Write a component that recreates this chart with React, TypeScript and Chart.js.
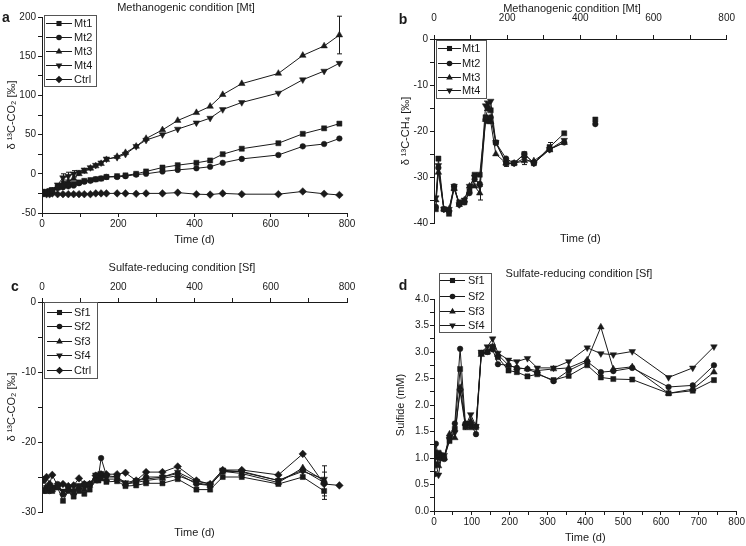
import React, { useEffect, useRef } from 'react';
import { Chart, registerables } from 'chart.js';

Chart.register(...registerables);

const FONT = "'Liberation Sans', Arial, Helvetica, sans-serif";
const INK = '#1a1a1a';
Chart.defaults.font.family = FONT;

// ---------------- Panel a : δ13C-CO2, methanogenic ----------------
const timeA = [0, 5, 12, 20, 27, 41, 55, 69, 83, 97, 111, 127, 141, 155, 169, 197, 219, 247, 273, 316, 356, 405, 441, 474, 524, 620, 684, 740, 780];
const mt1A = [-24, -24, -23, -22, -21, -17, -15, -14, -13, -11, -9, -8, -7, -6, -4, -3, -2, 0, 3, 8, 11, 14, 17, 25, 32, 39, 51, 58, 64];
const mt2A = [-25, -25, -24, -23, -22, -18, -17, -16, -15, -12, -10, -9, -7, -6, -4, -4, -3, -1, 0, 3, 5, 7, 9, 14, 19, 24, 35, 38, 45];
const mt3A = [-24, -24, -24, -23, -22, -18, -12, -10, -6, 0, 3, 7, 10, 13, 18, 22, 27, 35, 45, 56, 68, 78, 86, 101, 115, 128, 151, 163, 177];
const mt4A = [-24, -24, -23, -22, -20, -14, -5, -3, 0, 2, 5, 8, 11, 14, 19, 21, 25, 35, 43, 50, 57, 65, 71, 82, 91, 103, 120, 131, 141];
const ctrlA = [-25, -25, -26, -26, -25, -26, -26, -26, -26, -26, -26, -26, -25, -25, -25, -25, -25, -25.5, -25, -25, -24, -26, -26.5, -25, -26, -26, -22.5, -25.5, -27];
const mt3AErr = [0, 0, 0, 0, 0, 0, 4, 0, 0, 0, 0, 0, 0, 0, 0, 0, 0, 0, 0, 0, 0, 0, 0, 0, 0, 0, 0, 0, 24];
const mt4AErr = [0, 0, 0, 0, 0, 0, 5, 5, 4, 0, 0, 0, 0, 0, 0, 0, 0, 0, 0, 0, 0, 0, 0, 0, 0, 0, 0, 0, 0];

// ---------------- Panel b : δ13C-CH4, methanogenic ----------------
const timeB = [5, 12, 27, 41, 55, 69, 83, 97, 111, 125, 141, 148, 155, 169, 197, 219, 247, 273, 316, 356, 405, 441];
const mt1B = [-37, -26, -37, -38, -32.5, -35.5, -35.5, -33, -29.5, -29.5, -17, -15, -15.5, -22.5, -27, -27, -25, -27, -23.5, -20.5, null, -17.5];
const mt2B = [-36.5, -28, -37, -37.5, -32, -36, -35.5, -33.5, -30.5, -31.5, -17.5, -17.5, -17, -22.5, -26, -27, -25, -27, -24, -22.5, null, -18.5];
const mt3B = [-35, -29, -37, -37, -32.5, -36, -35, -32, -32, -33.5, -17.5, -18, -18, -25, -27, -27, -26.5, -26.5, -24, -22.5, null, null];
const mt4B = [-34.5, -27.5, -37, -37, -32, -36, -35, -32, -30, -32, -14.5, -14, -13.5, -22.5, -27, -27, -26, -27, -24, -22, null, null];
const mt1BErr = [0, 0, 0, 0, 0, 0, 0, 0, 0, 0, 0, 0, 0, 0, 0.7, 0, 0, 0, 1, 0, 0, 0];
const mt3BErr = [0, 0, 0, 0, 0, 0, 0, 0, 0, 1.5, 0, 0, 0, 0, 0, 0, 0.8, 0, 0, 0, 0, 0];
const mt4BErr = [0, 0, 0, 0, 0, 0, 0, 0, 0, 0, 1, 0, 0, 0, 0, 0, 0, 0, 0, 0, 0, 0];

// ---------------- Panel c : δ13C-CO2, sulfate-reducing ----------------
const timeC = [5, 12, 20, 27, 41, 55, 69, 83, 97, 111, 125, 141, 148, 155, 169, 197, 219, 247, 273, 316, 356, 405, 441, 474, 524, 620, 684, 740, 780];
const sf1C = [-27, -27, -26.5, -27, -26.5, -28.4, -27, -27.8, -27, -27.4, -26.8, -25.5, -25.5, -25.2, -25.7, -25.6, -26.3, -26.2, -25.9, -25.9, -25.3, -26.8, -26.8, -25, -25, -26, -25, -27, null];
const sf2C = [-25.5, -26.5, -27, -26.5, -26, -27.5, -26.5, -27, -26.5, -26, -26, -24.8, -25, -22.3, -24.8, -25, -26, -25.6, -25, -25, -24.5, -26, -26.2, -24.2, -24.2, -25.5, -24, -25.8, null];
const sf3C = [-27, -26.8, -26.3, -26.8, -26.5, -27.3, -26.8, -27.3, -26.5, -26.8, -26.2, -25, -25, -24.8, -25.3, -25.3, -26, -25.8, -25.5, -25.2, -24.8, -25.8, -26.2, -24.2, -24.5, -25.8, -23.7, -25.5, null];
const sf4C = [-26.8, -26.5, -26.5, -26.5, -26.2, -27, -26.5, -27, -26.2, -26.5, -26, -24.7, -24.8, -24.5, -25, -25, -25.8, -25.5, -25.3, -25, -24.3, -25.6, -26, -24, -24.3, -25.5, -24.2, -25.3, null];
const ctrlC = [-25.4, -25, -26, -24.7, -26.3, -26, -26.3, -26.2, -25.2, -26, -26, -24.8, -24.8, -24.6, -24.6, -24.6, -24.4, -25.5, -24.3, -24.3, -23.5, -25.5, -26, -24, -24, -24.7, -21.7, -26, -26.2];
const sf2CErr = [0, 0, 0, 0, 0, 0, 0, 0, 0, 0, 0, 0, 0, 0, 0, 0, 0, 0, 0, 0, 0, 0, 0, 0, 0, 0, 0, 2.4, 0];
const ctrlCErr = [0, 0, 0, 0, 0, 0, 0, 0, 0, 0, 0, 0, 0, 0, 0, 0, 0, 0, 0, 0, 0, 0, 0, 0, 0, 0, 0, 1.7, 0];

// ---------------- Panel d : sulfide ----------------
const timeD = [0, 5, 12, 20, 27, 41, 55, 69, 83, 97, 111, 125, 141, 155, 169, 197, 219, 247, 273, 316, 356, 405, 441, 474, 524, 620, 684, 740];
const sf1D = [0.7, 1.05, 1.1, 1.05, 1.0, 1.32, 1.55, 2.68, 1.58, 1.58, 1.58, 2.98, 3.0, 3.1, 2.9, 2.65, 2.62, 2.54, 2.58, 2.47, 2.55, 2.75, 2.52, 2.49, 2.48, 2.22, 2.27, 2.47];
const sf2D = [0.88, 1.27, 1.0, 1.0, 0.98, 1.38, 1.65, 3.06, 1.65, 1.65, 1.45, 2.98, 3.0, 3.05, 2.77, 2.75, 2.7, 2.68, 2.6, 2.45, 2.65, 2.82, 2.62, 2.64, 2.7, 2.34, 2.37, 2.75];
const sf3D = [0.7, 1.1, 0.85, 1.05, 1.0, 1.45, 1.38, 2.33, 1.65, 1.7, 1.6, 2.95, 3.0, 3.1, 2.95, 2.75, 2.7, 2.68, 2.65, 2.68, 2.7, 2.85, 3.47, 2.68, 2.72, 2.22, 2.3, 2.62];
const sf4D = [0.68, 0.9, 0.68, 1.05, 1.05, 1.35, 1.48, 2.25, 1.6, 1.82, 1.6, 3.0, 3.1, 3.25, 2.98, 2.85, 2.82, 2.88, 2.7, 2.7, 2.82, 3.08, 2.97, 2.95, 3.01, 2.52, 2.7, 3.1];

// ---------------- texts ----------------
const titleMt = 'Methanogenic condition [Mt]';
const titleSf = 'Sulfate-reducing condition [Sf]';
const labelTime = 'Time (d)';
const labelCO2 = 'δ ¹³C-CO₂ [‰]';
const labelCH4 = 'δ ¹³C-CH₄ [‰]';
const labelSulfide = 'Sulfide (mM)';

type Marker = 'rect' | 'circle' | 'triangle' | 'triangleDown' | 'rectRot';
const RADIUS: Record<Marker, number> = { rect: 3.6, circle: 2.8, triangle: 3.8, triangleDown: 3.8, rectRot: 3.8 };

interface SeriesSpec { label: string; values: (number | null)[]; marker: Marker; errors?: number[] }
interface LegendSpec { box: [number, number, number, number]; rows: number[]; lineX: [number, number]; textX: number }
interface PanelSpec {
  left: number; top: number; width: number; height: number;
  times: number[]; series: SeriesSpec[];
  title: string; titleX: number; titleY: number;
  letter: string; letterX: number; letterY: number;
  legend: LegendSpec;
  scales: any; padTop: number; padRight: number;
}

const tickFont = { family: FONT, size: 10 };
const titleFont = { family: FONT, size: 11 };

function isMultiple(v: number, e: number) {
  const r = Math.abs(v / e - Math.round(v / e));
  return r < 1e-6;
}

function xAxis(position: 'top' | 'bottom', labelEvery: number, step: number, height: number, tickPad: number, title?: { text: string; pb: number }) {
  return {
    type: 'linear', position, min: 0, max: 800,
    afterFit: (s: any) => { s.height = height; },
    grid: { drawOnChartArea: false, drawTicks: true, tickLength: 4, color: INK, lineWidth: 1 },
    border: { display: true, color: INK, width: 1 },
    ticks: {
      stepSize: step, autoSkip: false, maxRotation: 0, minRotation: 0, padding: tickPad, color: INK, font: tickFont,
      callback: (v: number) => (isMultiple(v, labelEvery) ? String(v) : ''),
    },
    title: title
      ? { display: true, text: title.text, color: INK, font: titleFont, padding: { top: 0, bottom: title.pb } }
      : { display: false },
  };
}

function timeOnlyAxis(height: number, pb: number) {
  return {
    type: 'linear', position: 'bottom', min: 0, max: 800,
    afterFit: (s: any) => { s.height = height; },
    grid: { display: false, drawTicks: false },
    border: { display: false },
    ticks: { display: false },
    title: { display: true, text: labelTime, color: INK, font: titleFont, padding: { top: 0, bottom: pb } },
  };
}

function yAxis(min: number, max: number, step: number, labelEvery: number, width: number, tickPad: number, text: string, titlePad: number, fmt: (v: number) => string) {
  return {
    type: 'linear', position: 'left', min, max,
    afterFit: (s: any) => { s.width = width; },
    grid: { drawOnChartArea: false, drawTicks: true, tickLength: 4, color: INK, lineWidth: 1 },
    border: { display: true, color: INK, width: 1 },
    ticks: {
      stepSize: step, autoSkip: false, padding: tickPad, color: INK, font: tickFont,
      callback: (v: number) => (isMultiple(v, labelEvery) ? fmt(v) : ''),
    },
    title: { display: true, text, color: INK, font: titleFont, padding: { top: titlePad, bottom: 0 } },
  };
}

function drawMarker(ctx: CanvasRenderingContext2D, m: Marker, x: number, y: number) {
  const r = RADIUS[m];
  ctx.beginPath();
  if (m === 'rect') {
    const s = r * Math.SQRT1_2;
    ctx.rect(x - s, y - s, 2 * s, 2 * s);
  } else if (m === 'circle') {
    ctx.arc(x, y, r, 0, Math.PI * 2);
  } else if (m === 'triangle' || m === 'triangleDown') {
    const base = m === 'triangle' ? 0 : Math.PI;
    for (let k = 0; k < 3; k++) {
      const a = base + (k * 2 * Math.PI) / 3;
      const px = x + Math.sin(a) * r;
      const py = y - Math.cos(a) * r;
      if (k === 0) ctx.moveTo(px, py); else ctx.lineTo(px, py);
    }
    ctx.closePath();
  } else {
    ctx.moveTo(x, y - r); ctx.lineTo(x + r, y); ctx.lineTo(x, y + r); ctx.lineTo(x - r, y);
    ctx.closePath();
  }
  ctx.fillStyle = INK;
  ctx.fill();
}

function makeDeco(spec: PanelSpec) {
  return {
    id: 'deco',
    afterDraw(chart: any) {
      const ctx: CanvasRenderingContext2D = chart.ctx;
      ctx.save();
      // error bars
      chart.data.datasets.forEach((ds: any, di: number) => {
        const errs: number[] | undefined = ds.errorBars;
        if (!errs) return;
        const meta = chart.getDatasetMeta(di);
        const ys = chart.scales[meta.yAxisID];
        errs.forEach((e, i) => {
          const v = ds.data[i]?.y;
          if (!e || v == null) return;
          const px = Math.round(meta.data[i].x) + 0.5;
          const y1 = ys.getPixelForValue(v + e);
          const y2 = ys.getPixelForValue(v - e);
          ctx.strokeStyle = INK; ctx.lineWidth = 1;
          ctx.beginPath();
          ctx.moveTo(px, y1); ctx.lineTo(px, y2);
          ctx.moveTo(px - 2.5, y1); ctx.lineTo(px + 2.5, y1);
          ctx.moveTo(px - 2.5, y2); ctx.lineTo(px + 2.5, y2);
          ctx.stroke();
        });
      });
      // legend
      const lg = spec.legend;
      const [x1, y1, x2, y2] = lg.box;
      ctx.fillStyle = '#ffffff';
      ctx.fillRect(x1, y1, x2 - x1, y2 - y1);
      ctx.strokeStyle = '#555555'; ctx.lineWidth = 1;
      ctx.strokeRect(x1 + 0.5, y1 + 0.5, x2 - x1, y2 - y1);
      spec.series.forEach((s, i) => {
        const y = lg.rows[i];
        ctx.strokeStyle = INK; ctx.lineWidth = 1;
        ctx.beginPath(); ctx.moveTo(lg.lineX[0], y + 0.5); ctx.lineTo(lg.lineX[1], y + 0.5); ctx.stroke();
        drawMarker(ctx, s.marker, (lg.lineX[0] + lg.lineX[1]) / 2, y + 0.5);
        ctx.fillStyle = INK; ctx.font = `11px ${FONT}`;
        ctx.textAlign = 'left'; ctx.textBaseline = 'middle';
        ctx.fillText(s.label, lg.textX, y + 0.5);
      });
      // title & panel letter
      ctx.fillStyle = INK;
      ctx.font = `11px ${FONT}`; ctx.textAlign = 'center'; ctx.textBaseline = 'middle';
      ctx.fillText(spec.title, spec.titleX, spec.titleY);
      ctx.font = `bold 14px ${FONT}`;
      ctx.fillText(spec.letter, spec.letterX, spec.letterY);
      ctx.restore();
    },
  };
}

const panels: PanelSpec[] = [
  {
    left: 0, top: 0, width: 373, height: 258,
    times: timeA,
    series: [
      { label: 'Mt1', values: mt1A, marker: 'rect' },
      { label: 'Mt2', values: mt2A, marker: 'circle' },
      { label: 'Mt3', values: mt3A, marker: 'triangle', errors: mt3AErr },
      { label: 'Mt4', values: mt4A, marker: 'triangleDown', errors: mt4AErr },
      { label: 'Ctrl', values: ctrlA, marker: 'rectRot' },
    ],
    title: titleMt, titleX: 186, titleY: 8, letter: 'a', letterX: 6, letterY: 18,
    legend: { box: [44, 15, 96, 86], rows: [23, 37, 51, 65, 79], lineX: [46, 72], textX: 74 },
    padTop: 17, padRight: 26,
    scales: {
      x: xAxis('bottom', 200, 100, 45, 1, { text: labelTime, pb: 11 }),
      y: yAxis(-50, 200, 25, 50, 42, 2, labelCO2, 5, (v) => String(v)),
    },
  },
  {
    left: 373, top: 0, width: 373, height: 258,
    times: timeB,
    series: [
      { label: 'Mt1', values: mt1B, marker: 'rect', errors: mt1BErr },
      { label: 'Mt2', values: mt2B, marker: 'circle' },
      { label: 'Mt3', values: mt3B, marker: 'triangle', errors: mt3BErr },
      { label: 'Mt4', values: mt4B, marker: 'triangleDown', errors: mt4BErr },
    ],
    title: titleMt, titleX: 199, titleY: 9, letter: 'b', letterX: 30, letterY: 20,
    legend: { box: [63, 40, 113, 98], rows: [48, 63, 77, 90], lineX: [65, 88], textX: 89 },
    padTop: 0, padRight: 10,
    scales: {
      x: xAxis('top', 200, 100, 39, 11),
      xb: timeOnlyAxis(35, 12),
      y: yAxis(-40, 0, 5, 10, 61, 2, labelCH4, 26, (v) => String(v)),
    },
  },
  {
    left: 0, top: 258, width: 373, height: 288,
    times: timeC,
    series: [
      { label: 'Sf1', values: sf1C, marker: 'rect' },
      { label: 'Sf2', values: sf2C, marker: 'circle', errors: sf2CErr },
      { label: 'Sf3', values: sf3C, marker: 'triangle' },
      { label: 'Sf4', values: sf4C, marker: 'triangleDown' },
      { label: 'Ctrl', values: ctrlC, marker: 'rectRot', errors: ctrlCErr },
    ],
    title: titleSf, titleX: 182, titleY: 10, letter: 'c', letterX: 15, letterY: 29,
    legend: { box: [44, 44, 97, 120], rows: [54, 68, 83, 97, 112], lineX: [47, 72], textX: 74 },
    padTop: 0, padRight: 26,
    scales: {
      x: xAxis('top', 200, 100, 44, 5),
      xb: timeOnlyAxis(34, 6),
      y: yAxis(-30, 0, 5, 10, 42, 2, labelCO2, 5, (v) => String(v)),
    },
  },
  {
    left: 373, top: 258, width: 373, height: 288,
    times: timeD,
    series: [
      { label: 'Sf1', values: sf1D, marker: 'rect' },
      { label: 'Sf2', values: sf2D, marker: 'circle' },
      { label: 'Sf3', values: sf3D, marker: 'triangle' },
      { label: 'Sf4', values: sf4D, marker: 'triangleDown' },
    ],
    title: titleSf, titleX: 206, titleY: 16, letter: 'd', letterX: 30, letterY: 28,
    legend: { box: [66, 15, 118, 74], rows: [22, 38, 53, 67], lineX: [67, 92], textX: 95 },
    padTop: 41, padRight: 8,
    scales: {
      x: xAxis('bottom', 100, 50, 35, 1, { text: labelTime, pb: 1 }),
      y: yAxis(0, 4, 0.25, 0.5, 61, 1, labelSulfide, 21, (v) => v.toFixed(1)),
    },
  },
];

function Panel({ spec }: { spec: PanelSpec }) {
  const ref = useRef<HTMLCanvasElement>(null);
  useEffect(() => {
    const canvas = ref.current;
    if (!canvas) return;
    const chart = new Chart(canvas, {
      type: 'line',
      data: {
        datasets: spec.series.map((s) => ({
          label: s.label,
          data: spec.times.map((t, i) => ({ x: t, y: s.values[i] })),
          xAxisID: 'x',
          yAxisID: 'y',
          borderColor: INK,
          backgroundColor: INK,
          borderWidth: 1,
          pointStyle: s.marker === 'triangleDown' ? 'triangle' : s.marker,
          pointRotation: s.marker === 'triangleDown' ? 180 : 0,
          pointRadius: RADIUS[s.marker],
          pointBackgroundColor: INK,
          pointBorderColor: INK,
          pointBorderWidth: 0.5,
          tension: 0,
          spanGaps: false,
          errorBars: s.errors,
        })) as any,
      },
      options: {
        responsive: false,
        maintainAspectRatio: false,
        animation: false,
        events: [],
        layout: { padding: { left: 0, top: spec.padTop, right: spec.padRight, bottom: 0 } },
        plugins: { legend: { display: false }, tooltip: { enabled: false }, title: { display: false } },
        scales: spec.scales,
      } as any,
      plugins: [makeDeco(spec) as any],
    });
    return () => chart.destroy();
  }, [spec]);
  return (
    <canvas
      ref={ref}
      width={spec.width}
      height={spec.height}
      style={{ position: 'absolute', left: spec.left, top: spec.top, width: spec.width, height: spec.height }}
    />
  );
}

export default function App() {
  return (
    <div style={{ position: 'fixed', left: 0, top: 0, width: 746, height: 546, background: '#ffffff', overflow: 'hidden' }}>
      {panels.map((p, i) => (
        <Panel key={i} spec={p} />
      ))}
    </div>
  );
}
